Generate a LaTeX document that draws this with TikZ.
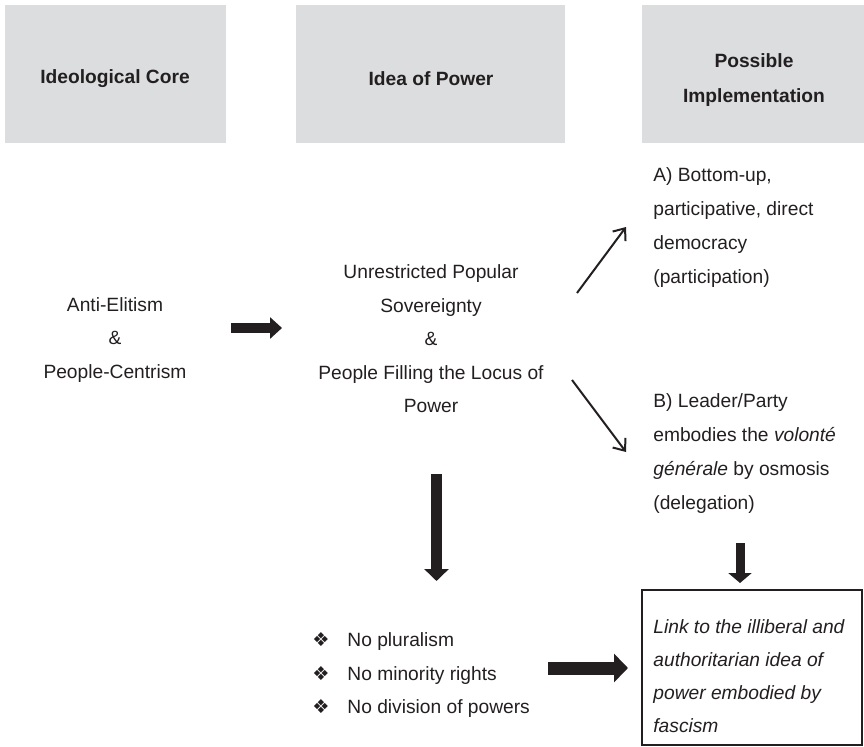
\documentclass[tikz,border=0pt]{standalone}
\usepackage{fontspec}
\setmainfont{Liberation Sans}
\newfontfamily\dingfont{DejaVu Sans}
\usetikzlibrary{arrows.meta,positioning}
\definecolor{inkgrey}{HTML}{231F20}
\definecolor{headgrey}{HTML}{DCDDDF}
\newcommand{\nobullet}{\makebox[17.5bp][l]{\dingfont\char"2756}}

\begin{document}
\begin{tikzpicture}[x=0.5bp,y=-0.5bp,
every node/.style={text=inkgrey,font=\fontsize{9.6bp}{16.75bp}\selectfont},
headbox/.style={fill=headgrey,minimum height=69bp},
headtext/.style={inner sep=0pt,align=center,font=\fontsize{9.6bp}{17.5bp}\selectfont\bfseries},
plaintext/.style={inner sep=0pt},
blockarrow/.style n args={3}{draw=inkgrey,line width=#1,-{Triangle[length=#3,width=#2]}},
thinarrow/.style={draw=inkgrey,line width=1bp,-{Straight Barb[length=5bp,width=8bp]}}]
\useasboundingbox (0,0) rectangle (864,747);
% column headings
\node[headbox,minimum width=110.25bp](corehead) at (115.75,74){};
\node[headbox,minimum width=134.5bp](powerhead) at (430.5,74){};
\node[headbox,minimum width=111bp](implhead) at (753,74){};
\node[headtext](coretitle) at (115,79){Ideological Core};
\node[headtext](powertitle) at (431,79){Idea of Power};
\node[headtext](impltitle) at (754,80){Possible\\Implementation};
% texts
\node[plaintext,align=center](core) at (115,340){Anti-Elitism\\\&\\People-Centrism};
\node[plaintext,align=center](sovereignty) at (431,339){Unrestricted Popular\\Sovereignty\\\&\\People Filling the Locus of\\Power};
\node[plaintext,align=left,anchor=west,font=\fontsize{9.6bp}{17bp}\selectfont](impA) at (653,228){A) Bottom-up,\\participative, direct\\democracy\\(participation)};
\node[plaintext,align=left,anchor=west,font=\fontsize{9.6bp}{17bp}\selectfont](impB) at (653,454){B) Leader/Party\\embodies the \textit{volont\'e}\\\textit{g\'en\'erale} by osmosis\\(delegation)};
\node[plaintext,align=left,anchor=west](nolist) at (312,675){\nobullet No pluralism\\\nobullet No minority rights\\\nobullet No division of powers};
\node[draw=inkgrey,line width=0.75bp,minimum width=110bp,minimum height=77.5bp](linkbox) at (752,667.5){};
\node[plaintext,align=left,anchor=west,font=\fontsize{9.6bp}{16.6bp}\selectfont\itshape](linktext) at (653,676){Link to the illiberal and\\authoritarian idea of\\power embodied by\\fascism};
% arrow ends
\coordinate(c1) at (231,328);\coordinate(c2) at (282,328);
\coordinate(a1) at (577,293);\coordinate(a2) at (626,227);
\coordinate(b1) at (572,380);\coordinate(b2) at (626,452);
\coordinate(d1) at (436.5,474);\coordinate(d2) at (436.5,581);
\coordinate(e1) at (740,543);\coordinate(e2) at (740,583);
\coordinate(f1) at (548,668);\coordinate(f2) at (628,668);
\draw[blockarrow={5bp}{10.5bp}{6bp}](c1)--(c2);
\draw[thinarrow](a1)--(a2);\draw[thinarrow](b1)--(b2);
\draw[blockarrow={5.5bp}{12bp}{6bp}](d1)--(d2);
\draw[blockarrow={4.5bp}{11.5bp}{5bp}](e1)--(e2);
\draw[blockarrow={6.5bp}{14bp}{7bp}](f1)--(f2);
\end{tikzpicture}
\end{document}
